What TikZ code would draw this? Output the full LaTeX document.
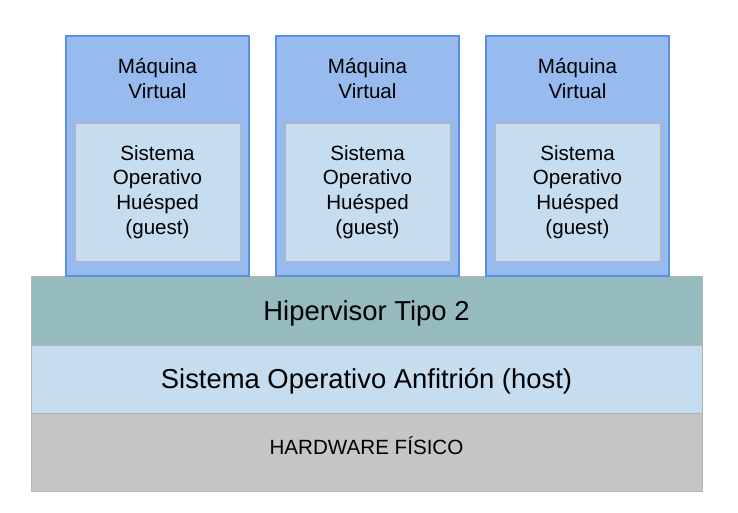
\documentclass[tikz,border=0pt]{standalone}
\usepackage{fontspec}
\setmainfont{Liberation Sans}
\usepackage{tikz}
\definecolor{vmFill}{HTML}{97BBEE}
\definecolor{vmEdge}{HTML}{5B8FE3}
\definecolor{guestFill}{HTML}{C6DCEF}
\definecolor{layerEdge}{HTML}{B4B4B4}
\definecolor{hyperFill}{HTML}{95BBBF}
\definecolor{hostFill}{HTML}{C6DCEF}
\definecolor{hwFill}{HTML}{C5C5C5}

\begin{document}
\begin{tikzpicture}[
  x=1pt,y=-1pt,
  every box/.style={
    inner sep=0pt,
    outer sep=0pt,
    align=center,
    text=black,
  },
  vm box/.style={
    every box/.try,
    draw=vmEdge,
    line width=2pt,
    fill=vmFill,
    minimum width=183pt,
    minimum height=240pt,
  },
  guest box/.style={
    every box/.try,
    draw=layerEdge,
    line width=1pt,
    fill=guestFill,
    minimum width=165pt,
    minimum height=138pt,
    font=\fontsize{20.6}{24.8}\selectfont,
  },
  layer box/.style={
    every box/.try,
    draw=layerEdge,
    line width=1pt,
    minimum width=671pt,
  },
  big text/.style={
    font=\fontsize{27.4}{32}\selectfont,
  },
  vm label/.style={
    every box/.try,
    font=\fontsize{20.6}{24.8}\selectfont,
  }
]
\useasboundingbox (0,0) rectangle (738,512);
% layers
\node[layer box,fill=hwFill,minimum height=78pt,
  font=\fontsize{20.6}{24.8}\selectfont,
  text height=15pt,text depth=10.4pt] (hw) at (366.5,452) {HARDWARE FÍSICO};
\node[layer box,fill=hostFill,minimum height=68pt,big text,
  text height=19.6pt,text depth=1pt] (host) at (366.5,379) {Sistema Operativo Anfitrión (host)};
\node[layer box,fill=hyperFill,minimum height=69pt,big text,
  text height=19.6pt,text depth=0pt] (hyper) at (366.5,310.5) {Hipervisor Tipo 2};
% virtual machines
\foreach \k in {0,1,2}
{
  \node[vm box] (vm\k) at (157.5+210*\k,156) {};
  \node[vm label] (vmlabel\k) at (157.5+210*\k,78.5) {Máquina\\Virtual};
  \node[guest box] (guest\k) at (157.5+210*\k,192) {Sistema\\Operativo\\Huésped\\(guest)};
}
\end{tikzpicture}
\end{document}
